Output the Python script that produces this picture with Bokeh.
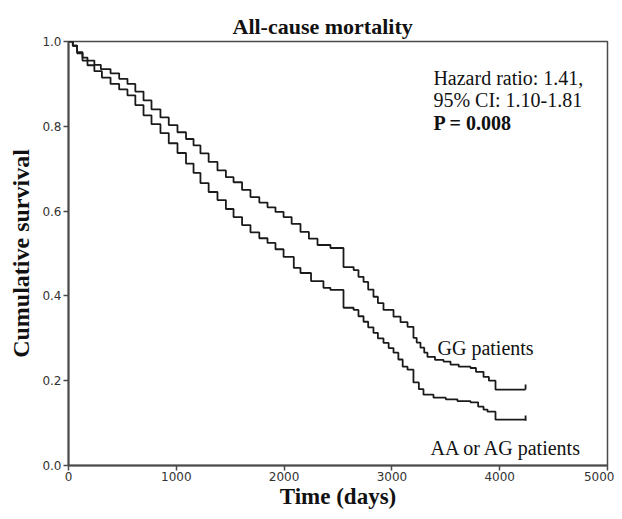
from bokeh.plotting import figure
from bokeh.models import FixedTicker, PrintfTickFormatter, Label, Range1d, Title
from bokeh.embed import file_html
from bokeh.resources import INLINE

# ---- data ----
gg_days = [0, 40, 80, 130, 176, 240, 300, 390, 470, 547, 620, 696, 770, 853, 930, 1011,
           1090, 1160, 1224, 1300, 1382, 1460, 1531, 1610, 1688, 1770, 1846, 1920, 1995,
           2070, 2152, 2230, 2310, 2430, 2551, 2645, 2690, 2737, 2780, 2829, 2870, 2922,
           3015, 3080, 3145, 3200, 3230, 3265, 3300, 3330, 3400, 3479, 3544, 3620, 3729,
           3780, 3850, 3900, 3961, 4240]
gg_surv = [1.0, 0.99, 0.975, 0.962, 0.955, 0.945, 0.935, 0.925, 0.912, 0.90, 0.882, 0.861,
           0.84, 0.821, 0.803, 0.786, 0.77, 0.755, 0.736, 0.716, 0.696, 0.68, 0.668, 0.65,
           0.633, 0.62, 0.609, 0.598, 0.586, 0.57, 0.551, 0.535, 0.52, 0.513, 0.468, 0.461,
           0.445, 0.433, 0.415, 0.398, 0.383, 0.367, 0.351, 0.338, 0.327, 0.301, 0.29, 0.278,
           0.266, 0.256, 0.249, 0.245, 0.238, 0.233, 0.23, 0.221, 0.209, 0.2, 0.179, 0.179]

aa_days = [0, 40, 80, 130, 176, 240, 310, 390, 470, 547, 620, 696, 770, 853, 930, 1011,
           1090, 1160, 1224, 1300, 1382, 1460, 1531, 1610, 1688, 1770, 1846, 1920, 1995,
           2090, 2152, 2250, 2365, 2430, 2551, 2645, 2690, 2737, 2780, 2829, 2870, 2922,
           2970, 3015, 3060, 3100, 3145, 3200, 3250, 3293, 3386, 3500, 3608, 3729, 3800,
           3850, 3887, 3961, 4240]
aa_surv = [1.0, 0.99, 0.972, 0.955, 0.944, 0.93, 0.915, 0.90, 0.887, 0.873, 0.85, 0.826,
           0.805, 0.784, 0.76, 0.737, 0.712, 0.69, 0.666, 0.645, 0.626, 0.605, 0.586, 0.567,
           0.55, 0.536, 0.525, 0.51, 0.492, 0.466, 0.454, 0.435, 0.419, 0.414, 0.372, 0.367,
           0.352, 0.339, 0.326, 0.313, 0.3, 0.289, 0.277, 0.266, 0.25, 0.233, 0.226, 0.196,
           0.18, 0.167, 0.16, 0.156, 0.152, 0.149, 0.139, 0.132, 0.127, 0.108, 0.106]

x_ticks = [0, 1000, 2000, 3000, 4000, 5000]
y_ticks = [0.0, 0.2, 0.4, 0.6, 0.8, 1.0]

title_text = "All-cause mortality"
stats_lines = ["Hazard ratio: 1.41,", "95% CI: 1.10-1.81", "P = 0.008"]
group_labels = ["GG patients", "AA or AG patients"]

SERIF = "Liberation Serif"
SANS = "DejaVu Sans"
INK = "#1a1a1a"
AXIS = "#4a4a4a"

p = figure(width=614, height=511, output_backend="svg", toolbar_location=None,
           x_range=Range1d(0, 5000), y_range=Range1d(0, 1.0),
           min_border_left=68, min_border_right=7, min_border_top=41, min_border_bottom=45,
           title=None)
p.add_layout(Title(text=title_text, text_font=SERIF, text_font_style="bold",
                   text_font_size="22px", text_color="#111111", align="left",
                   offset=164, standoff=6), "above")

p.grid.visible = False
p.outline_line_color = AXIS
p.outline_line_width = 1.5
p.background_fill_color = "white"
p.border_fill_color = "white"

for ax in (p.xaxis[0], p.yaxis[0]):
    ax.axis_line_color = AXIS
    ax.axis_line_width = 2
    ax.major_tick_line_color = AXIS
    ax.major_tick_line_width = 1.5
    ax.major_tick_out = 5
    ax.major_tick_in = 0
    ax.minor_tick_line_color = None
    ax.major_label_text_font = SANS
    ax.major_label_text_font_size = "12px"
    ax.major_label_text_color = "#333333"
    ax.axis_label_text_font = SERIF
    ax.axis_label_text_font_style = "bold"
    ax.axis_label_text_font_size = "23px"
    ax.axis_label_text_color = "#111111"
    ax.major_label_standoff = 2

p.yaxis.axis_label_text_font_size = "24px"
p.xaxis.major_label_standoff = 1
p.xaxis.ticker = FixedTicker(ticks=x_ticks)
p.yaxis.ticker = FixedTicker(ticks=y_ticks)
p.yaxis.formatter = PrintfTickFormatter(format="%.1f")
p.xaxis.axis_label = "Time (days)"
p.yaxis.axis_label = "Cumulative survival"
p.xaxis.axis_label_standoff = 0
p.yaxis.axis_label_standoff = 5

# survival curves
p.step(gg_days, gg_surv, mode="after", line_color=INK, line_width=1.8)
p.step(aa_days, aa_surv, mode="after", line_color=INK, line_width=1.8)
# censor ticks at the end of each curve
p.segment(x0=[gg_days[-1], aa_days[-1]], y0=[gg_surv[-1], aa_surv[-1]],
          x1=[gg_days[-1], aa_days[-1]], y1=[gg_surv[-1] + 0.012, aa_surv[-1] + 0.012],
          line_color=INK, line_width=1.8)

# statistics text
stat_y = [0.915, 0.861, 0.807]
for i, (txt, yy) in enumerate(zip(stats_lines, stat_y)):
    p.add_layout(Label(x=3385, y=yy, text=txt, text_font=SERIF, text_font_size="20px",
                       text_font_style="bold" if i == 2 else "normal",
                       text_color="#111111", text_baseline="alphabetic", text_align="left"))

p.add_layout(Label(x=3423, y=0.278, text=group_labels[0], text_font=SERIF,
                   text_font_size="20px", text_color="#111111",
                   text_baseline="alphabetic", text_align="left"))
p.add_layout(Label(x=3358, y=0.042, text=group_labels[1], text_font=SERIF,
                   text_font_size="20px", text_color="#111111",
                   text_baseline="alphabetic", text_align="left"))

open("out.html", "w").write(file_html(p, INLINE))
